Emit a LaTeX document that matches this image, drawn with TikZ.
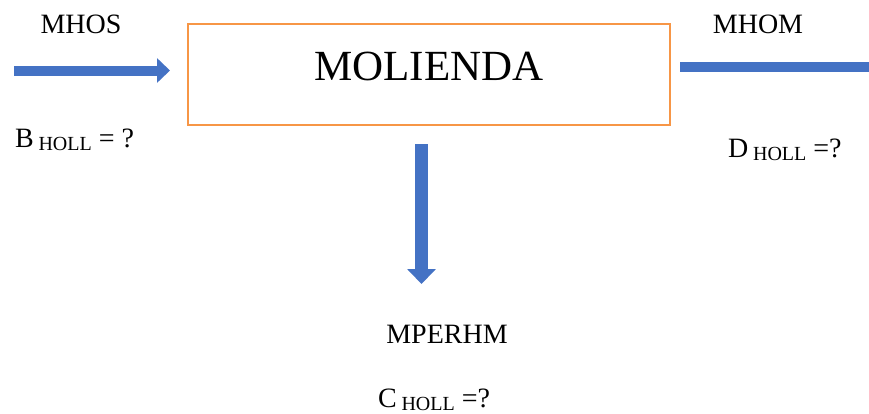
\documentclass[tikz,border=0pt]{standalone}
\usepackage{fontspec}
\setmainfont{Liberation Serif}
\usetikzlibrary{arrows.meta}
\definecolor{flowblue}{RGB}{68,114,196}
\definecolor{boxorange}{RGB}{247,150,70}
\newcommand{\holl}[1]{#1\,\raisebox{-3pt}{\fontsize{20}{20}\selectfont HOLL}}
\tikzset{
  flow/.style={flowblue,line width=10pt},
  label/.style={font=\fontsize{28}{30}\selectfont,inner sep=0pt}
}
\begin{document}
\begin{tikzpicture}[x=1pt,y=-1pt]
  \useasboundingbox (0,0) rectangle (869,413);
  \node[draw=boxorange,line width=2.5pt,minimum width=482pt,minimum height=101pt,
        font=\fontsize{43}{45}\selectfont,text height=28pt,text depth=17pt]
        (molienda) at (429,74.5) {MOLIENDA};
  % entrada
  \coordinate (in1) at (14,70.5);
  \coordinate (in2) at (170,70.5);
  \draw[flow,-{Triangle[width=24pt,length=13pt]}] (in1) -- (in2);
  \node[label,anchor=base] (mhos) at (81,33) {MHOS};
  \node[label,anchor=base west] (bholl) at (15,147) {\holl{B} = ?};
  % salida
  \coordinate (out1) at (680,67);
  \coordinate (out2) at (869,67);
  \draw[flow] (out1) -- (out2);
  \node[label,anchor=base] (mhom) at (758,33) {MHOM};
  \node[label,anchor=base west] (dholl) at (728,157) {\holl{D} =?};
  % perdidas
  \coordinate (loss1) at (421.5,144);
  \coordinate (loss2) at (421.5,284);
  \draw[flow,line width=13pt,-{Triangle[width=28pt,length=15pt]}] (loss1) -- (loss2);
  \node[label,anchor=base] (mperhm) at (447,343) {MPERHM};
  \node[label,anchor=base west] (choll) at (378,407) {\holl{C} =?};
\end{tikzpicture}
\end{document}
